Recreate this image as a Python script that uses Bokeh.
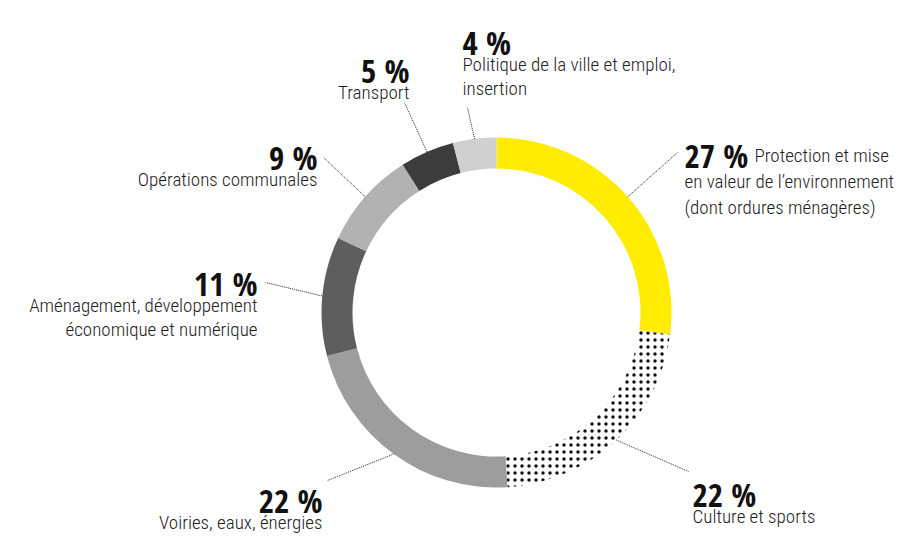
import numpy as np
from bokeh.plotting import figure
from bokeh.models import ColumnDataSource, Range1d
from bokeh.core.properties import value
from bokeh.embed import file_html
from bokeh.resources import INLINE

# ---------------- data ----------------
categories = [
    "Protection et mise en valeur de l’environnement (dont ordures ménagères)",
    "Culture et sports",
    "Voiries, eaux, énergies",
    "Aménagement, développement économique et numérique",
    "Opérations communales",
    "Transport",
    "Politique de la ville et emploi, insertion",
]
shares = [27, 22, 22, 11, 9, 5, 4]
pct_labels = ["27 %", "22 %", "22 %", "11 %", "9 %", "5 %", "4 %"]
desc_lines = [
    ["Protection et mise", "en valeur de l’environnement", "(dont ordures ménagères)"],
    ["Culture et sports"],
    ["Voiries, eaux, énergies"],
    ["Aménagement, développement", "économique et numérique"],
    ["Opérations communales"],
    ["Transport"],
    ["Politique de la ville et emploi,", "insertion"],
]

# ---------------- styles / layout ----------------
colors = ["#FFEC00", "#FFFFFF", "#9D9D9C", "#5E5E5D", "#B2B2B2", "#3C3C3B", "#D0D0D0"]
hatches = [" ", "dot", " ", " ", " ", " ", " "]

W, H = 898, 534
def Y(sy):  # screen y -> data y
    return H - sy

CX, CY = 496, Y(312)
R_OUT, R_IN = 175, 144

# percent label anchors (screen coords, baseline), alignment
pct_pos = [(684, 155, "left"), (692, 494, "left"), (322, 500, "right"),
           (257, 283, "right"), (317, 157, "right"), (409, 70, "right"),
           (462, 42, "left")]
leader_end = [(677, 152), (688, 471), (327, 480), (265, 282), (323, 157),
              (404, 102), (467, 107)]
LINE_GAP = 24

p = figure(width=W, height=H, output_backend="svg", toolbar_location=None,
           x_range=Range1d(0, W), y_range=Range1d(0, H),
           x_axis_location=None, y_axis_location=None, min_border=0,
           outline_line_color=None, background_fill_color="white")
p.grid.visible = False

total = float(sum(shares))
cum = np.concatenate([[0.0], np.cumsum(shares)]) / total
start = np.pi / 2 - 2 * np.pi * cum[:-1]
end = np.pi / 2 - 2 * np.pi * cum[1:]

src = ColumnDataSource(dict(cat=categories, start=start, end=end,
                            color=colors, hatch=hatches))
p.annular_wedge(x=CX, y=CY, inner_radius=R_IN, outer_radius=R_OUT,
                start_angle="start", end_angle="end", direction="clock",
                fill_color="color", line_color=None,
                hatch_pattern="hatch", hatch_color="#111111",
                hatch_scale=7, hatch_weight=2.2, source=src)

# leader lines from the middle of each segment
mid = np.pi / 2 - 2 * np.pi * (cum[:-1] + cum[1:]) / 2
x0 = CX + R_OUT * np.cos(mid)
y0 = CY + R_OUT * np.sin(mid)
x1 = [e[0] for e in leader_end]
y1 = [Y(e[1]) for e in leader_end]
p.segment(x0=x0, y0=y0, x1=x1, y1=y1, line_color="#222222",
          line_width=1, line_dash="1 1")

PCT_FONT = value("Open Sans Condensed")
TXT_FONT = value("Roboto Condensed Light, Roboto Condensed")
TXT = "#1d1d1b"

# percentages
p.text(x=[q[0] for q in pct_pos], y=[Y(q[1]) for q in pct_pos], text=pct_labels,
       text_align=[q[2] for q in pct_pos], text_baseline="alphabetic",
       text_font=PCT_FONT, text_font_style="bold", text_font_size="33px",
       text_color="#111111")

# descriptions
dx, dy, dt, da = [], [], [], []
for i, lines in enumerate(desc_lines):
    px, py, al = pct_pos[i]
    for j, line in enumerate(lines):
        if i == 0:
            if j == 0:
                dx.append(754); dy.append(Y(py))
            else:
                dx.append(px); dy.append(Y(py + 26 * j))
        else:
            dx.append(px); dy.append(Y(py + LINE_GAP * (j + 1) - 2))
        dt.append(line); da.append(al)
p.text(x=dx, y=dy, text=dt, text_align=da, text_baseline="alphabetic",
       text_font=TXT_FONT, text_font_size="19px", text_color=TXT)

open("out.html", "w").write(file_html(p, INLINE))
